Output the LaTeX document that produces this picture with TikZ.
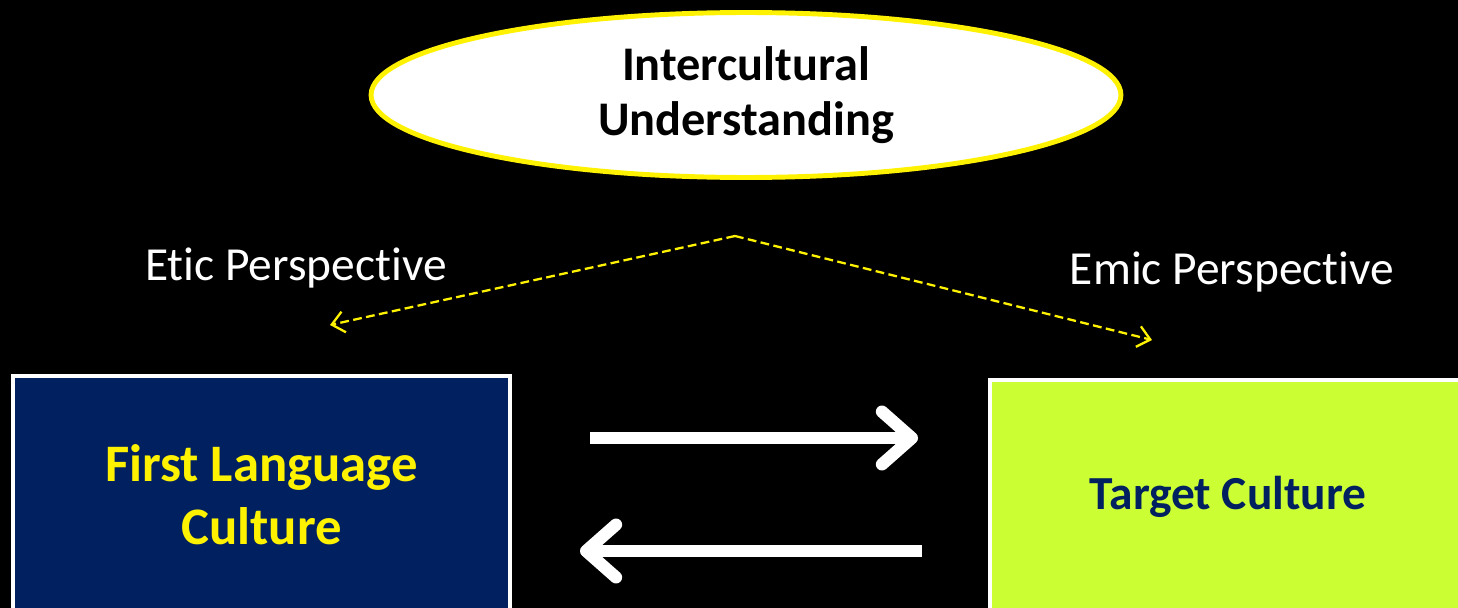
\documentclass[tikz,border=0pt]{standalone}
\usepackage{fontspec}
\setmainfont[Ligatures=NoCommon]{Carlito}
\usetikzlibrary{arrows.meta,shapes.geometric}
\definecolor{navy}{HTML}{002060}
\definecolor{lime}{HTML}{CCFF33}

\begin{document}
\begin{tikzpicture}[x=0.02cm,y=-0.02cm,
    culture/.style={draw=white,line width=2.2pt,rectangle,align=center},
    persp/.style={text=white,font=\fontsize{27}{32}\selectfont},
    view/.style={draw=yellow,line width=1.3pt,dash pattern=on 5pt off 2.5pt,
      -{Straight Barb[length=7pt,width=12pt]}},
    swap/.style={draw=white,line width=7pt,
      -{Straight Barb[length=17pt,width=30pt,round]}}]
   % background
   \fill[black] (0,0) rectangle (1458,608);
   \useasboundingbox (0,0) rectangle (1458,608);

   % top ellipse
   \node[ellipse,draw=yellow,line width=2.8pt,fill=white,
     minimum width=15.0cm,minimum height=3.3cm,align=center,
     font=\fontsize{27.5}{31.5}\selectfont\bfseries] (iu) at (746,95)
     {Intercultural\\Understanding};

   % the two cultures
   \node[culture,fill=navy,text=yellow,minimum width=9.94cm,minimum height=4.76cm,
     font=\fontsize{30}{36}\selectfont\bfseries]
     (first) at (261.5,495) {First Language\\Culture};
   \node[culture,fill=lime,text=navy,minimum width=9.52cm,minimum height=4.68cm,
     font=\fontsize{27}{32}\selectfont\bfseries]
     (target) at (1228,497) {Target Culture};

   % perspectives
   \node[persp] (etic) at (296,268) {Etic Perspective};
   \node[persp] (emic) at (1232,272) {Emic Perspective};
   \coordinate (apex) at (735,236);
   \coordinate (eticend) at (330,325);
   \coordinate (emicend) at (1152,340);
   \draw[view] (apex) -- (eticend);
   \draw[view] (apex) -- (emicend);

   % exchange between cultures
   \coordinate (a1) at (590,438);
   \coordinate (a2) at (918,438);
   \coordinate (b1) at (922,551);
   \coordinate (b2) at (580,551);
   \draw[swap] (a1) -- (a2);
   \draw[swap] (b1) -- (b2);
\end{tikzpicture}
\end{document}
